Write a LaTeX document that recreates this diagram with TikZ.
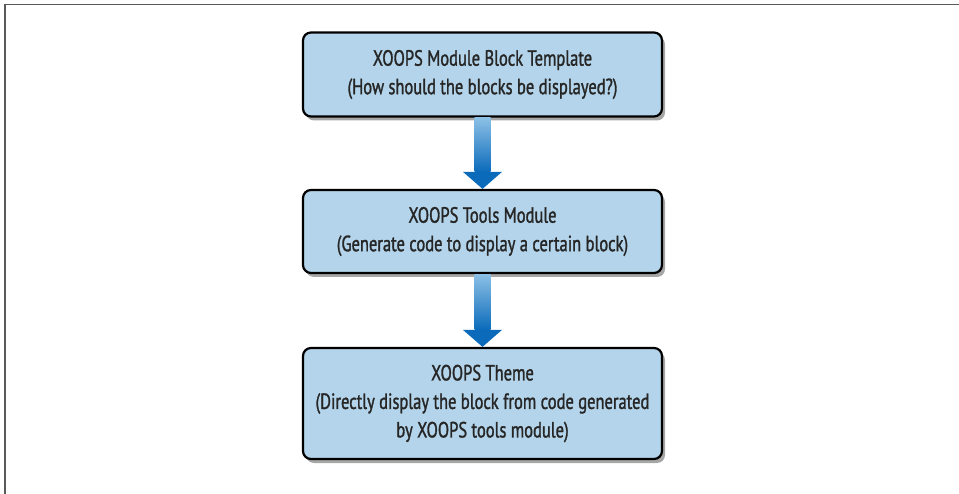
\documentclass[tikz,border=0pt]{standalone}
\usepackage{fontspec}
\setmainfont[FakeStretch=0.75,FakeBold=1.3]{PT Sans}
\usetikzlibrary{shadows,fadings}
\definecolor{boxblue}{HTML}{B3D4EA}
\definecolor{arrtop}{HTML}{8CC0E6}
\definecolor{arrbot}{HTML}{0B6BBA}
\definecolor{framegray}{HTML}{5A5A5A}
\tikzset{
  stepbox/.style={draw=black, line width=2.2pt, rounded corners=8pt, fill=boxblue,
    minimum width=359pt, align=center, inner sep=0pt, text=black!85,
    font=\fontsize{22}{28.5}\selectfont,
    drop shadow={shadow xshift=3pt, shadow yshift=-4pt, opacity=0.35, fill=black}},
}
\newcommand{\bigarrow}[2]{%
  \shade[top color=arrtop, bottom color=arrbot, draw=none]
    ([xshift=-8pt]#1.south) rectangle ([xshift=8pt,yshift=17pt]#2.north);
  \fill[arrbot] ([xshift=-19.5pt,yshift=17pt]#2.north) -- ([xshift=19.5pt,yshift=17pt]#2.north) -- (#2.north) -- cycle;
}
\begin{document}
\begin{tikzpicture}[x=1pt,y=-1pt]
\useasboundingbox (0,0) rectangle (959,494);
\draw[framegray, line width=1.5pt] (5,494) -- (5,4.5) -- (959,4.5);
\node[stepbox, minimum height=84pt] (b1) at (482.5,74.5)
  {XOOPS Module Block Template\\(How should the blocks be displayed?)};
\node[stepbox, minimum height=83pt] (b2) at (482.5,231.5)
  {XOOPS Tools Module\\(Generate code to display a certain block)};
\node[stepbox, minimum height=111pt] (b3) at (482.5,403.5)
  {XOOPS Theme\\(Directly display the block from code generated\\by XOOPS tools module)};
\bigarrow{b1}{b2}
\bigarrow{b2}{b3}
\end{tikzpicture}
\end{document}
